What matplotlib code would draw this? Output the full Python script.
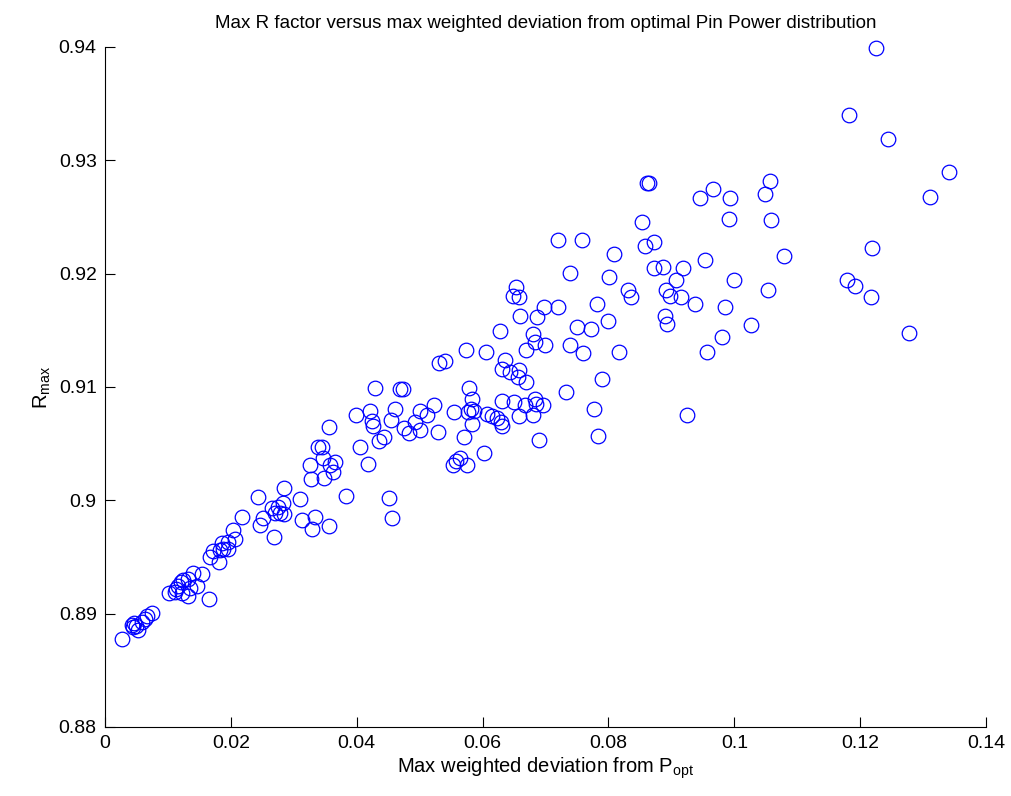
import matplotlib
matplotlib.use("Agg")
import matplotlib.pyplot as plt
from matplotlib.ticker import FuncFormatter

plt.rcParams['font.family'] = ['Liberation Sans', 'DejaVu Sans']
plt.rcParams['mathtext.default'] = 'regular'

# max weighted deviation from P_opt
dev = [
    0.0027, 0.0043, 0.0046, 0.0052, 0.0049, 0.0045, 0.0059, 0.0063, 0.0067, 0.0075,
    0.0102, 0.0111, 0.0116, 0.0121, 0.0124, 0.0132, 0.0140, 0.0154, 0.0146, 0.0135,
    0.0122, 0.0132, 0.0113, 0.0165, 0.0167, 0.0172, 0.0181, 0.0183, 0.0186, 0.0188,
    0.0195, 0.0204, 0.0207, 0.0195, 0.0218, 0.0243, 0.0246, 0.0251, 0.0265, 0.0270,
    0.0275, 0.0278, 0.0283, 0.0284, 0.0284, 0.0269, 0.0310, 0.0313, 0.0329, 0.0334,
    0.0356, 0.0326, 0.0327, 0.0338, 0.0345, 0.0346, 0.0348, 0.0356, 0.0358, 0.0362,
    0.0366, 0.0383, 0.0399, 0.0405, 0.0418, 0.0421, 0.0424, 0.0426, 0.0429, 0.0435,
    0.0443, 0.0451, 0.0454, 0.0456, 0.0461, 0.0469, 0.0474, 0.0475, 0.0483, 0.0493,
    0.0501, 0.0501, 0.0512, 0.0523, 0.0529, 0.0531, 0.0541, 0.0553, 0.0555, 0.0558,
    0.0564, 0.0571, 0.0574, 0.0575, 0.0577, 0.0579, 0.0582, 0.0583, 0.0583, 0.0586,
    0.0602, 0.0605, 0.0607, 0.0615, 0.0623, 0.0628, 0.0629, 0.0631, 0.0631, 0.0631,
    0.0636, 0.0644, 0.0648, 0.0650, 0.0653, 0.0656, 0.0658, 0.0658, 0.0658, 0.0659,
    0.0667, 0.0669, 0.0669, 0.0680, 0.0680, 0.0683, 0.0683, 0.0685, 0.0686, 0.0690,
    0.0696, 0.0698, 0.0699, 0.0720, 0.0720, 0.0733, 0.0739, 0.0739, 0.0750, 0.0758,
    0.0760, 0.0773, 0.0777, 0.0781, 0.0784, 0.0790, 0.0799, 0.0801, 0.0809, 0.0817,
    0.0831, 0.0836, 0.0853, 0.0858, 0.0861, 0.0865, 0.0872, 0.0872, 0.0887, 0.0890,
    0.0892, 0.0893, 0.0897, 0.0907, 0.0915, 0.0919, 0.0925, 0.0938, 0.0945, 0.0953,
    0.0957, 0.0966, 0.0981, 0.0985, 0.0992, 0.0993, 0.0999, 0.1027, 0.1049, 0.1054,
    0.1057, 0.1058, 0.1079, 0.1179, 0.1182, 0.1192, 0.1217, 0.1219, 0.1225, 0.1244,
    0.1278, 0.1311, 0.1341,
]

# max R factor
rmax = [
    0.8878, 0.8890, 0.8892, 0.8886, 0.8889, 0.8888, 0.8893, 0.8895, 0.8898, 0.8901,
    0.8918, 0.8919, 0.8924, 0.8928, 0.8930, 0.8931, 0.8936, 0.8935, 0.8924, 0.8923,
    0.8918, 0.8916, 0.8922, 0.8913, 0.8950, 0.8955, 0.8946, 0.8956, 0.8962, 0.8957,
    0.8963, 0.8974, 0.8966, 0.8957, 0.8985, 0.9003, 0.8978, 0.8984, 0.8993, 0.8989,
    0.8994, 0.8989, 0.8998, 0.9011, 0.8988, 0.8968, 0.9001, 0.8983, 0.8975, 0.8985,
    0.8977, 0.9031, 0.9019, 0.9047, 0.9047, 0.9037, 0.9020, 0.9065, 0.9031, 0.9025,
    0.9034, 0.9004, 0.9075, 0.9047, 0.9032, 0.9079, 0.9070, 0.9066, 0.9099, 0.9052,
    0.9056, 0.9002, 0.9071, 0.8984, 0.9081, 0.9098, 0.9098, 0.9064, 0.9059, 0.9069,
    0.9079, 0.9062, 0.9075, 0.9084, 0.9060, 0.9121, 0.9123, 0.9031, 0.9078, 0.9035,
    0.9037, 0.9056, 0.9133, 0.9031, 0.9078, 0.9099, 0.9081, 0.9089, 0.9067, 0.9079,
    0.9042, 0.9131, 0.9076, 0.9074, 0.9073, 0.9149, 0.9069, 0.9066, 0.9116, 0.9088,
    0.9124, 0.9113, 0.9180, 0.9087, 0.9188, 0.9109, 0.9115, 0.9179, 0.9074, 0.9163,
    0.9084, 0.9133, 0.9104, 0.9147, 0.9075, 0.9140, 0.9089, 0.9085, 0.9162, 0.9053,
    0.9084, 0.9171, 0.9137, 0.9230, 0.9171, 0.9096, 0.9137, 0.9201, 0.9153, 0.9230,
    0.9130, 0.9151, 0.9081, 0.9173, 0.9057, 0.9107, 0.9158, 0.9197, 0.9217, 0.9131,
    0.9186, 0.9179, 0.9246, 0.9224, 0.9280, 0.9280, 0.9228, 0.9205, 0.9206, 0.9163,
    0.9186, 0.9156, 0.9180, 0.9194, 0.9179, 0.9205, 0.9075, 0.9173, 0.9267, 0.9212,
    0.9131, 0.9275, 0.9144, 0.9171, 0.9248, 0.9267, 0.9194, 0.9155, 0.9270, 0.9186,
    0.9282, 0.9247, 0.9216, 0.9194, 0.9340, 0.9189, 0.9179, 0.9223, 0.9399, 0.9319,
    0.9148, 0.9268, 0.9290,
]

xticks = [0, 0.02, 0.04, 0.06, 0.08, 0.1, 0.12, 0.14]
yticks = [0.88, 0.89, 0.9, 0.91, 0.92, 0.93, 0.94]

fig = plt.figure(figsize=(10.11, 7.96), dpi=100)
ax = fig.add_axes([0.1039, 0.0867, 0.8714, 0.8543])

ax.plot(dev, rmax, 'o', linestyle='none', markerfacecolor='none',
        markeredgecolor='blue', markersize=10.5, markeredgewidth=0.9,
        clip_on=False)

ax.set_xlim(0, 0.14)
ax.set_ylim(0.88, 0.94)
ax.set_xticks(xticks)
ax.set_yticks(yticks)
fmt = FuncFormatter(lambda v, p: '%g' % round(v, 4))
ax.xaxis.set_major_formatter(fmt)
ax.yaxis.set_major_formatter(fmt)

ax.spines['top'].set_visible(False)
ax.spines['right'].set_visible(False)
ax.tick_params(direction='in', length=7, width=0.8, labelsize=14, pad=6)

ax.set_xlabel('Max weighted deviation from P$_{opt}$', fontsize=14.5, labelpad=2)
ax.set_ylabel('R$_{max}$', fontsize=14.5, labelpad=4)
ax.set_title('Max R factor versus max weighted deviation from optimal Pin Power distribution',
             fontsize=13.5, pad=14)

fig.savefig('out.png', dpi=100)
